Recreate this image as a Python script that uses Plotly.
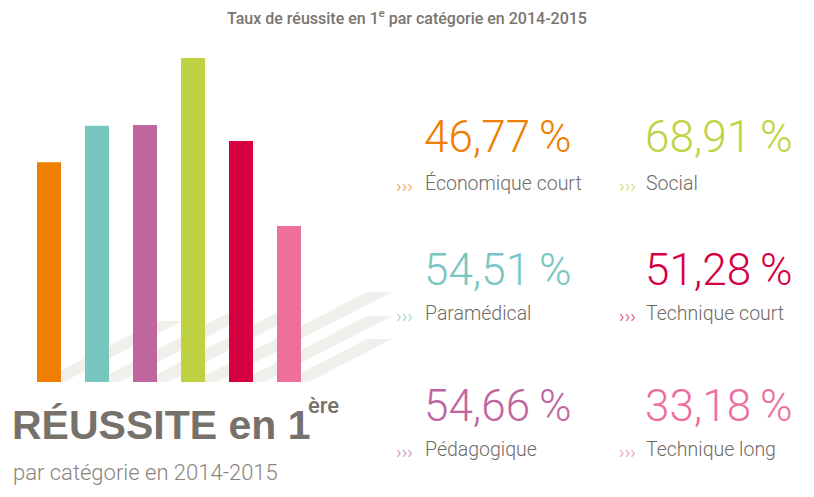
import plotly.graph_objects as go

# ---- data ----
categories = ["Économique court", "Paramédical", "Pédagogique", "Social", "Technique court", "Technique long"]
values = [46.77, 54.51, 54.66, 68.91, 51.28, 33.18]
colors = ["#EF7F00", "#77C6C0", "#C0669F", "#BFD342", "#D60041", "#ED6F9C"]
title_text = "Taux de réussite en 1<sup>e</sup> par catégorie en 2014-2015"
big_title = "RÉUSSITE en 1"
big_title_sup = "ère"
subtitle = "par catégorie en 2014-2015"

# page body has an 8px margin: figure occupies window pixels 8..814 / 8..497
OFF = 8
W, H = 814 - OFF, 497 - OFF
def px(x):
    return (x - OFF) / W
def py(y):
    return 1 - (y - OFF) / H

FONT = "Roboto, Lato, Liberation Sans, sans-serif"

fig = go.Figure()
fig.add_trace(go.Bar(
    x=categories, y=values, marker=dict(color=colors, line=dict(width=0)),
    width=0.5, hoverinfo="x+y", showlegend=False,
))

# axes: category spacing 48px, first centre at window x=49, baseline at window y=382, 4.70 px per %
base_px = 382 - OFF
c0 = 49 - OFF
scale = 4.70
half = W / 2
fig.update_layout(
    width=W, height=H,
    margin=dict(l=0, r=0, t=0, b=0, autoexpand=False),
    paper_bgcolor="white", plot_bgcolor="rgba(0,0,0,0)",
    xaxis=dict(domain=[0, 0.5], range=[-c0 / 48, (half - c0) / 48],
               showticklabels=False, showgrid=False, zeroline=False, fixedrange=True),
    yaxis=dict(domain=[(H - base_px) / H, 1], range=[0, base_px / scale],
               showticklabels=False, showgrid=False, zeroline=False, fixedrange=True),
)

# decorative floor stripes (parallel bands with horizontal tops), window pixel coords
stripes = [(321, 182), (311, 257), (311, 305), (292, 392), (316, 392), (339, 392)]
s = 0.515
ybase = 382
shapes = []
for yt, xe in stripes:
    xa = xe - 25
    d = (ybase - yt) / s
    path = (f"M {px(xa)} {py(yt)} L {px(xe)} {py(yt)} "
            f"L {px(xe - d)} {py(ybase)} L {px(xa - d)} {py(ybase)} Z")
    shapes.append(dict(type="path", xref="paper", yref="paper", path=path,
                       fillcolor="#F0EFEB", line=dict(width=0), layer="below"))
fig.update_layout(shapes=shapes)

ann = []
# top title
ann.append(dict(x=px(407), y=py(18), xref="paper", yref="paper", text=title_text,
                showarrow=False, xanchor="center", yanchor="middle",
                font=dict(family=FONT, size=16, color="#7A746F", weight=500)))
# big title
ann.append(dict(x=px(10), y=py(425), xref="paper", yref="paper", text=f"<b>{big_title}</b>",
                showarrow=False, xanchor="left", yanchor="middle",
                font=dict(family="Liberation Sans, Arial, sans-serif", size=41, color="#77716C")))
ann.append(dict(x=px(306), y=py(405), xref="paper", yref="paper", text=big_title_sup,
                showarrow=False, xanchor="left", yanchor="middle",
                font=dict(family=FONT, size=22, color="#77716C", weight=500)))
ann.append(dict(x=px(11), y=py(472), xref="paper", yref="paper", text=subtitle,
                showarrow=False, xanchor="left", yanchor="middle",
                font=dict(family=FONT, size=22, color="#8A8480", weight=300)))

# value panels
col_x = [425, 646]
chev_x = [394, 617]
val_y = [137, 270, 406]
lab_y = [183, 313, 449]
for i, (cat, v, c) in enumerate(zip(categories, values, colors)):
    col, row = i // 3, i % 3
    label = f"{v:.2f}".replace(".", ",") + "\u2009%"
    ann.append(dict(x=px(col_x[col] - 3), y=py(val_y[row]), xref="paper", yref="paper", text=label,
                    showarrow=False, xanchor="left", yanchor="middle",
                    font=dict(family=FONT, size=44, color=c, weight=300)))
    ann.append(dict(x=px(col_x[col] - 2), y=py(lab_y[row]), xref="paper", yref="paper", text=cat,
                    showarrow=False, xanchor="left", yanchor="middle",
                    font=dict(family=FONT, size=19.5, color="#6F6A67", weight=300)))
    ann.append(dict(x=px(chev_x[col]), y=py(lab_y[row] + 2), xref="paper", yref="paper", text="›››",
                    showarrow=False, xanchor="left", yanchor="middle", opacity=0.85,
                    font=dict(family=FONT, size=19, color=c, weight=300)))
fig.update_layout(annotations=ann)

fig.write_html("out.html")
